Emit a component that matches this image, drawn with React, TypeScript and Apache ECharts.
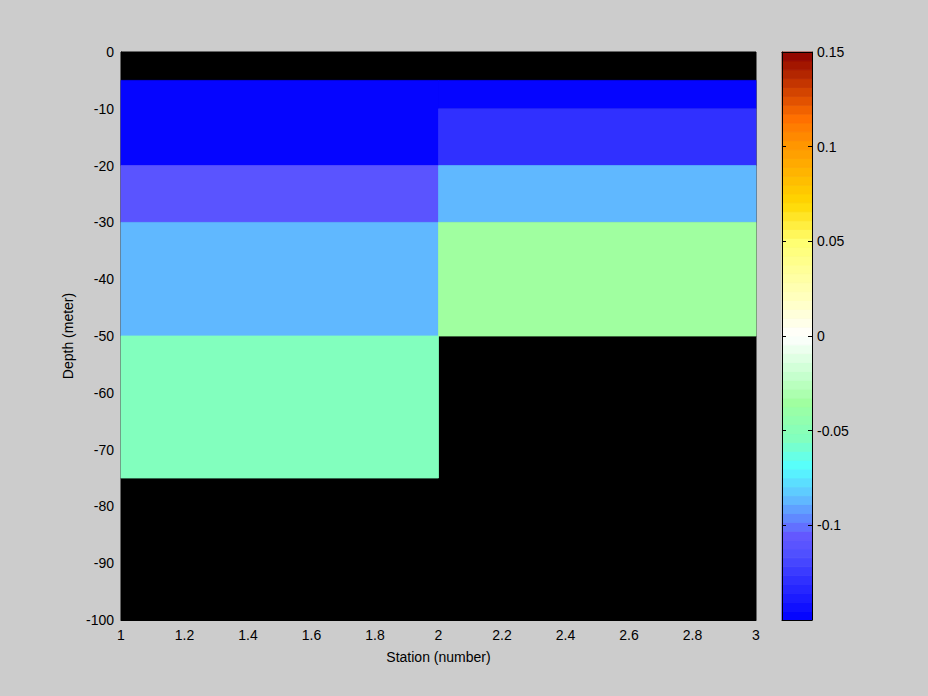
import React, { useEffect, useRef } from "react";
import * as echarts from "echarts";

// Column 1 (station 1 → 2)
const col1Top = [-5, -20, -30, -50];
const col1Bottom = [-20, -30, -50, -75];
const col1Values = [-0.148, -0.11, -0.085, -0.053];
// Column 2 (station 2 → 3)
const col2Top = [-5, -10, -20, -30];
const col2Bottom = [-10, -20, -30, -50];
const col2Values = [-0.148, -0.13, -0.085, -0.035];

const stationEdges = [1, 2, 3];
const cMin = -0.15;
const cMax = 0.15;
const nLevels = 64;

// colormap stops (value, color)
const cmapValues = [-0.15, -0.115, -0.105, -0.098, -0.085, -0.069, -0.055, -0.035, -0.02, 0, 0.02, 0.05, 0.07, 0.1, 0.115, 0.13, 0.15];
const cmapColors = ["#0000ff", "#5050ff", "#6458ff", "#6080ff", "#60c0ff", "#55ffff", "#80ffc0", "#a0ffa0", "#c8ffd0", "#ffffff", "#ffffc0", "#ffff70", "#ffd800", "#ff9800", "#ff7000", "#d04000", "#8b0000"];

function hexToRgb(h: string) {
  return [parseInt(h.slice(1, 3), 16), parseInt(h.slice(3, 5), 16), parseInt(h.slice(5, 7), 16)];
}
function cmap(v: number) {
  if (v <= cmapValues[0]) return cmapColors[0];
  for (let i = 1; i < cmapValues.length; i++) {
    if (v <= cmapValues[i]) {
      const f = (v - cmapValues[i - 1]) / (cmapValues[i] - cmapValues[i - 1]);
      const a = hexToRgb(cmapColors[i - 1]);
      const b = hexToRgb(cmapColors[i]);
      const c = a.map((x, k) => Math.round(x + (b[k] - x) * f));
      return `rgb(${c[0]},${c[1]},${c[2]})`;
    }
  }
  return cmapColors[cmapColors.length - 1];
}
function quantColor(v: number) {
  let bin = Math.floor(((v - cMin) / (cMax - cMin)) * nLevels);
  bin = Math.max(0, Math.min(nLevels - 1, bin));
  return cmap(cMin + ((bin + 0.5) * (cMax - cMin)) / nLevels);
}

export default function App() {
  const ref = useRef<HTMLDivElement>(null);
  useEffect(() => {
    const chart = echarts.init(ref.current!, null, { renderer: "svg" });
    const cells: number[][] = [];
    col1Top.forEach((t, i) => cells.push([stationEdges[0], stationEdges[1], t, col1Bottom[i], col1Values[i]]));
    col2Top.forEach((t, i) => cells.push([stationEdges[1], stationEdges[2], t, col2Bottom[i], col2Values[i]]));
    const bins: number[][] = [];
    for (let i = 0; i < nLevels; i++) {
      const lo = cMin + (i * (cMax - cMin)) / nLevels;
      const hi = cMin + ((i + 1) * (cMax - cMin)) / nLevels;
      bins.push([0, 1, hi, lo, (lo + hi) / 2]);
    }
    const rectItem = (params: any, api: any) => {
      const p0 = api.coord([api.value(0), api.value(2)]);
      const p1 = api.coord([api.value(1), api.value(3)]);
      const col = quantColor(api.value(4));
      return {
        type: "rect",
        shape: { x: p0[0], y: p0[1], width: p1[0] - p0[0], height: p1[1] - p0[1] },
        style: { fill: col, stroke: col, lineWidth: 0.8 },
      };
    };
    const font = { fontFamily: "Liberation Sans, Arial, sans-serif", fontSize: 14, color: "#000" };
    const blackLine = { show: true, onZero: false, lineStyle: { color: "#000" } };
    chart.setOption({
      animation: false,
      backgroundColor: "#cccccc",
      grid: [
        { left: 121, top: 52, width: 635, height: 568, show: true, backgroundColor: "#000", borderColor: "#000", borderWidth: 1 },
        { left: 782, top: 52, width: 30, height: 568, show: false },
      ],
      xAxis: [
        {
          type: "value", gridIndex: 0, min: 1, max: 3, interval: 0.2,
          splitLine: { show: false }, axisTick: { show: false },
          axisLine: blackLine,
          axisLabel: { ...font, margin: 8 },
          name: "Station (number)", nameLocation: "middle", nameGap: 30,
          nameTextStyle: { ...font },
        },
        {
          type: "value", gridIndex: 1, min: 0, max: 1, position: "bottom", z: 10,
          axisLine: blackLine,
          axisTick: { show: false }, axisLabel: { show: false }, splitLine: { show: false },
        },
        {
          type: "value", gridIndex: 1, min: 0, max: 1, position: "top", z: 10,
          axisLine: blackLine,
          axisTick: { show: false }, axisLabel: { show: false }, splitLine: { show: false },
        },
      ],
      yAxis: [
        {
          type: "value", gridIndex: 0, min: -100, max: 0, interval: 10,
          splitLine: { show: false }, axisTick: { show: false },
          axisLine: blackLine,
          axisLabel: { ...font, margin: 7 },
          name: "Depth (meter)", nameLocation: "middle", nameGap: 42,
          nameTextStyle: { ...font },
        },
        {
          type: "value", gridIndex: 1, min: -0.15, max: 0.15, interval: 0.05, position: "right", z: 10,
          splitLine: { show: false },
          axisLine: blackLine,
          axisTick: { show: true, inside: true, length: 4, lineStyle: { color: "#000" } },
          axisLabel: { ...font, margin: 5, formatter: (v: number) => (Math.abs(v + 0.15) < 1e-9 ? "" : String(Math.round(v * 100) / 100)) },
        },
        {
          type: "value", gridIndex: 1, min: -0.15, max: 0.15, interval: 0.05, position: "left", z: 10,
          splitLine: { show: false },
          axisLine: blackLine,
          axisTick: { show: true, inside: true, length: 4, lineStyle: { color: "#000" } },
          axisLabel: { show: false },
        },
      ],
      series: [
        { type: "custom", xAxisIndex: 0, yAxisIndex: 0, renderItem: rectItem, data: cells, silent: true },
        { type: "custom", xAxisIndex: 1, yAxisIndex: 1, renderItem: rectItem, data: bins, silent: true, z: 1 },
      ],
    });
    return () => chart.dispose();
  }, []);
  return <div ref={ref} style={{ position: "absolute", left: 0, top: 0, width: 928, height: 696 }} />;
}
